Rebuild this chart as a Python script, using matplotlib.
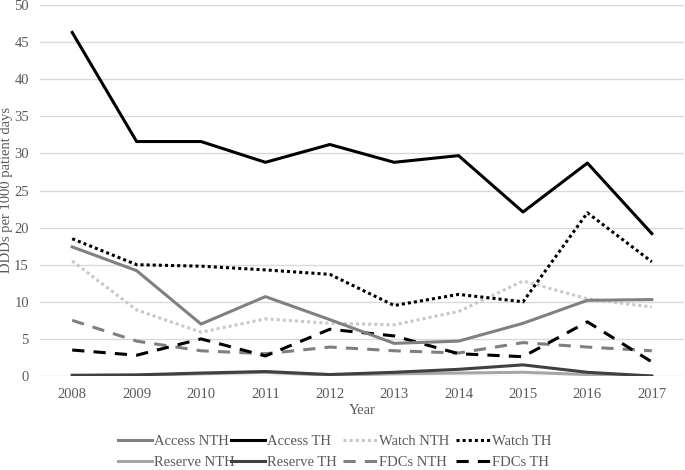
import matplotlib
matplotlib.use("Agg")
import matplotlib.pyplot as plt

years = ["2008", "2009", "2010", "2011", "2012", "2013", "2014", "2015", "2016", "2017"]

access_nth = [17.4, 14.2, 7.0, 10.7, 7.6, 4.4, 4.7, 7.1, 10.2, 10.3]
access_th = [46.3, 31.6, 31.6, 28.8, 31.2, 28.8, 29.7, 22.1, 28.7, 19.2]
watch_nth = [15.5, 8.9, 5.9, 7.7, 7.1, 6.9, 8.7, 12.8, 10.4, 9.3]
watch_th = [18.5, 15.0, 14.8, 14.3, 13.7, 9.5, 11.0, 10.0, 22.0, 15.4]
reserve_nth = [0.05, 0.1, 0.3, 0.5, 0.1, 0.3, 0.4, 0.5, 0.2, 0.0]
reserve_th = [0.1, 0.15, 0.4, 0.6, 0.2, 0.5, 0.9, 1.5, 0.5, 0.0]
fdcs_nth = [7.5, 4.7, 3.4, 3.0, 3.9, 3.4, 3.1, 4.5, 3.9, 3.4]
fdcs_th = [3.5, 2.8, 5.0, 2.7, 6.3, 5.4, 3.0, 2.6, 7.3, 1.9]

plt.rcParams["font.family"] = ["Liberation Serif", "DejaVu Serif"]
txt = "#595959"

fig = plt.figure(figsize=(6.85, 4.70), dpi=100)
ax = fig.add_axes([40 / 685, 1 - 376 / 470, 644 / 685, 371 / 470])

x = range(len(years))
lw = 2.2
dot = (0, (1, 1))
dash = (0, (4, 3))

l1, = ax.plot(x, reserve_nth, color="#a6a6a6", lw=lw, label="Reserve NTH")
l2, = ax.plot(x, reserve_th, color="#404040", lw=lw, label="Reserve TH")
l3, = ax.plot(x, fdcs_nth, color="#7f7f7f", lw=lw, ls=dash, label="FDCs NTH")
l4, = ax.plot(x, fdcs_th, color="#000000", lw=lw, ls=dash, label="FDCs TH")
l5, = ax.plot(x, watch_nth, color="#c8c8c8", lw=lw, ls=dot, label="Watch NTH")
l6, = ax.plot(x, access_nth, color="#808080", lw=lw, label="Access NTH")
l7, = ax.plot(x, watch_th, color="#000000", lw=lw, ls=dot, label="Watch TH")
l8, = ax.plot(x, access_th, color="#000000", lw=lw, label="Access TH")

ax.set_xlim(-0.5, len(years) - 0.5)
ax.set_ylim(0, 50)
ax.set_yticks(range(0, 51, 5))
ax.set_xticks(list(x))
ax.set_xticklabels(years)
ax.grid(axis="y", color="#d9d9d9", lw=1)
ax.set_axisbelow(True)
for s in ax.spines.values():
    s.set_visible(False)
ax.tick_params(length=0, labelsize=10.5, colors=txt)
ax.tick_params(axis="x", pad=9)
ax.tick_params(axis="y", pad=8)

ax.set_xlabel("Year", fontsize=10.5, color=txt, labelpad=2)
fig.text(7 / 685, 1 - 190 / 470, "DDDs per 1000 patient days", rotation=90,
         ha="center", va="center", fontsize=10.5, color=txt)

# legend: four columns of equal width, like the original
columns = [(l6, l1), (l8, l2), (l5, l3), (l7, l4)]
col_x = [118, 231, 343, 456]
for (a, b), cx in zip(columns, col_x):
    leg = fig.legend([a, b], [a.get_label(), b.get_label()], loc="upper left",
                     bbox_to_anchor=(cx / 685, 1 - 435 / 470), frameon=False,
                     fontsize=10.5, handlelength=2.3, handletextpad=0.2,
                     labelspacing=0.5, borderpad=0, borderaxespad=0)
    for t in leg.get_texts():
        t.set_color(txt)

fig.savefig("out.png", dpi=100)
